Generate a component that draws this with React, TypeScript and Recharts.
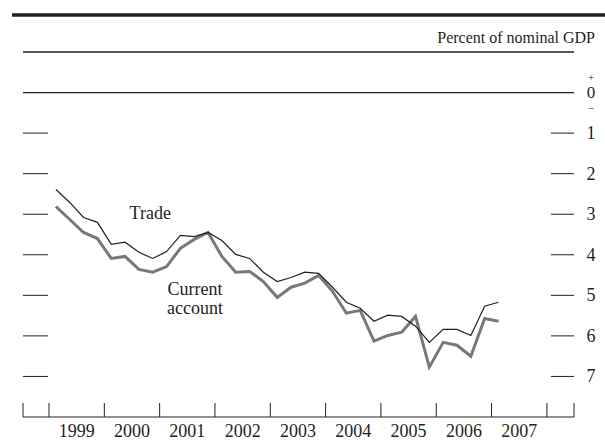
import React from 'react';
import { LineChart, Line, XAxis, YAxis, ReferenceLine, ReferenceDot } from 'recharts';

// quarterly observations, 1999:Q1 - 2007:Q1 (percent of nominal GDP)
const quarters = [
  '1999Q1', '1999Q2', '1999Q3', '1999Q4',
  '2000Q1', '2000Q2', '2000Q3', '2000Q4',
  '2001Q1', '2001Q2', '2001Q3', '2001Q4',
  '2002Q1', '2002Q2', '2002Q3', '2002Q4',
  '2003Q1', '2003Q2', '2003Q3', '2003Q4',
  '2004Q1', '2004Q2', '2004Q3', '2004Q4',
  '2005Q1', '2005Q2', '2005Q3', '2005Q4',
  '2006Q1', '2006Q2', '2006Q3', '2006Q4',
  '2007Q1',
];

const trade = [
  -2.39, -2.71, -3.08, -3.2,
  -3.74, -3.69, -3.94, -4.09,
  -3.92, -3.52, -3.55, -3.45,
  -3.65, -3.99, -4.09, -4.43,
  -4.66, -4.56, -4.43, -4.46,
  -4.8, -5.17, -5.32, -5.64,
  -5.49, -5.52, -5.76, -6.16,
  -5.84, -5.84, -5.99, -5.27,
  -5.17,
];

const currentAccount = [
  -2.81, -3.13, -3.45, -3.6,
  -4.09, -4.04, -4.36, -4.43,
  -4.29, -3.84, -3.62, -3.45,
  -4.04, -4.43, -4.41, -4.66,
  -5.05, -4.8, -4.7, -4.51,
  -4.9, -5.44, -5.37, -6.13,
  -5.99, -5.91, -5.52, -6.77,
  -6.16, -6.23, -6.5, -5.57,
  -5.64,
];

const years = [1999, 2000, 2001, 2002, 2003, 2004, 2005, 2006, 2007];
const yTicks = [0, -1, -2, -3, -4, -5, -6, -7];

const X_DOMAIN: [number, number] = [1998.53, 2008.49];
const Y_DOMAIN: [number, number] = [-8, 1];

const FONT = '"Liberation Serif", "Times New Roman", serif';
const INK = '#231f20';
const FS = 18;

// quarter midpoints on a continuous time axis
const toTime = (q: string) => {
  const [y, n] = q.split('Q');
  return Number(y) + (Number(n) - 1) * 0.25 + 0.125;
};

const data = quarters.map((q, i) => ({
  t: toTime(q),
  trade: trade[i],
  current: currentAccount[i],
}));

// year boundaries get tick marks, year midpoints get labels
const xTicks = [
  X_DOMAIN[0],
  ...years,
  years[years.length - 1] + 1,
  ...years.map((y) => y + 0.5),
  X_DOMAIN[1],
].sort((a, b) => a - b);

const XTick = (props: any) => {
  const { x, y, payload } = props;
  const v = payload.value;
  if (Number.isInteger(v) || v === X_DOMAIN[0] || v === X_DOMAIN[1]) {
    return <line x1={x} x2={x} y1={y - 14} y2={y} stroke={INK} strokeWidth={1} />;
  }
  return (
    <text x={x} y={y + 20} textAnchor="middle" fontFamily={FONT} fontSize={FS} fill={INK}>
      {Math.floor(v)}
    </text>
  );
};

const LeftTick = (props: any) => {
  const { x, y, payload } = props;
  if (payload.value === 0) return null;
  return <line x1={x} x2={x + 25} y1={y} y2={y} stroke={INK} strokeWidth={1} />;
};

const RightTick = (props: any) => {
  const { x, y, payload } = props;
  const v = payload.value;
  const tx = x + 17;
  if (v === 0) {
    // "+ 0 −" stacked around the zero line
    return (
      <g fontFamily={FONT} fill={INK} textAnchor="middle">
        <text x={tx} y={y - 12} fontSize={11}>+</text>
        <text x={tx} y={y + 5.5} fontSize={17}>0</text>
        <text x={tx} y={y + 19} fontSize={11}>−</text>
      </g>
    );
  }
  return (
    <g>
      <line x1={x - 23} x2={x} y1={y} y2={y} stroke={INK} strokeWidth={1} />
      <text x={tx} y={y + 6} textAnchor="middle" fontFamily={FONT} fontSize={FS} fill={INK}>
        {Math.abs(v)}
      </text>
    </g>
  );
};

const note = (lines: string[]) => (p: any) => (
  <text x={p.cx} y={p.cy} textAnchor="middle" fontFamily={FONT} fontSize={FS} fill={INK}>
    {lines.map((l, i) => (
      <tspan key={l} x={p.cx} dy={i ? 19 : 0}>
        {l}
      </tspan>
    ))}
  </text>
);

const App = () => {
  return (
    <div style={{ position: 'absolute', left: 0, top: 0, width: 605, height: 442, background: '#fff' }}>
      <svg width={605} height={442} style={{ position: 'absolute', left: 0, top: 0 }}>
        <line x1={12} x2={605} y1={15} y2={15} stroke={INK} strokeWidth={3.5} />
        <text x={595} y={43} textAnchor="end" fontFamily={FONT} fontSize={16} fill={INK}>
          Percent of nominal GDP
        </text>
      </svg>
      <LineChart
        width={605}
        height={442}
        data={data}
        margin={{ top: 52, right: 0, bottom: 0, left: 0 }}
        style={{ position: 'absolute', left: 0, top: 0 }}
      >
        <XAxis
          dataKey="t"
          type="number"
          domain={X_DOMAIN}
          ticks={xTicks}
          interval={0}
          height={25}
          tickSize={0}
          tickMargin={0}
          tickLine={false}
          axisLine={{ stroke: INK, strokeWidth: 1 }}
          tick={<XTick />}
          allowDataOverflow
        />
        <YAxis
          yAxisId="left"
          orientation="left"
          type="number"
          domain={Y_DOMAIN}
          ticks={yTicks}
          interval={0}
          width={23}
          tickSize={0}
          tickMargin={0}
          tickLine={false}
          axisLine={false}
          tick={<LeftTick />}
        />
        <YAxis
          yAxisId="right"
          orientation="right"
          type="number"
          domain={Y_DOMAIN}
          ticks={yTicks}
          interval={0}
          width={31}
          tickSize={0}
          tickMargin={0}
          tickLine={false}
          axisLine={false}
          tick={<RightTick />}
        />
        <ReferenceLine yAxisId="left" y={1} stroke={INK} strokeWidth={1.3} />
        <ReferenceLine yAxisId="left" y={0} stroke={INK} strokeWidth={1.3} />
        <Line
          yAxisId="right"
          type="linear"
          dataKey="current"
          stroke="#77787b"
          strokeWidth={3}
          dot={false}
          isAnimationActive={false}
        />
        <Line
          yAxisId="left"
          type="linear"
          dataKey="trade"
          stroke={INK}
          strokeWidth={1.2}
          dot={false}
          isAnimationActive={false}
        />
        <ReferenceDot yAxisId="left" x={2000.83} y={-3.13} r={0} shape={note(['Trade'])} />
        <ReferenceDot yAxisId="left" x={2001.64} y={-5.0} r={0} shape={note(['Current', 'account'])} />
      </LineChart>
    </div>
  );
};

export default App;
